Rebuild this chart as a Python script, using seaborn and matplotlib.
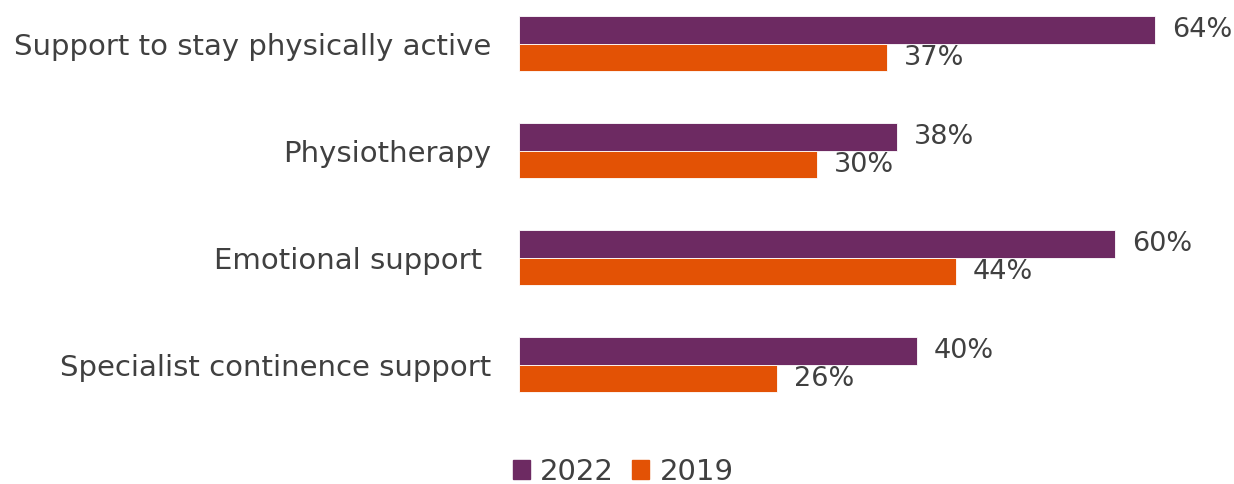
import matplotlib.pyplot as plt
import pandas as pd
import seaborn as sns

# values
categories = ["Support to stay physically active", "Physiotherapy",
              "Emotional support ", "Specialist continence support"]
years = ["2022", "2019"]
values_2022 = [64, 38, 60, 40]
values_2019 = [37, 30, 44, 26]
colors = {"2022": "#6D2A62", "2019": "#E35205"}

df = pd.DataFrame({
    "category": categories * 2,
    "year": ["2022"] * 4 + ["2019"] * 4,
    "value": values_2022 + values_2019,
})

sns.set_theme(style="white")
plt.rcParams["font.family"] = ["DejaVu Sans"]
text_color = "#404040"
fs = 21

fig = plt.figure(figsize=(12.34, 4.84), dpi=100)
ax = fig.add_axes([519 / 1234, 1 - 428 / 484, 1 - 519 / 1234, 428 / 484])

sns.barplot(data=df, y="category", x="value", hue="year", hue_order=years,
            palette=colors, saturation=1, orient="h", width=0.514,
            edgecolor="white", linewidth=0.6, ax=ax, legend=False)

for container in ax.containers:
    ax.bar_label(container, labels=[f"{v:.0f}%" for v in container.datavalues],
                 padding=12, fontsize=19.5, color=text_color)

ax.set_xlim(0, (1234 - 519) / 9.94)
ax.set_ylim(3.589, -0.411)
ax.set_xlabel("")
ax.set_ylabel("")
ax.set_xticks([])
ax.tick_params(axis="y", length=0, pad=20, labelsize=fs, labelcolor=text_color)
for s in ax.spines.values():
    s.set_visible(False)

handles = [plt.Rectangle((0, 0), 1, 1, color=colors[y]) for y in years]
fig.legend(handles, years, loc="center", bbox_to_anchor=(623 / 1234, 1 - 472 / 484),
           ncol=2, frameon=False, fontsize=fs, labelcolor=text_color,
           handlelength=0.6, handleheight=0.6, handletextpad=0.35, columnspacing=0.6)

fig.savefig("out.png", dpi=100)
